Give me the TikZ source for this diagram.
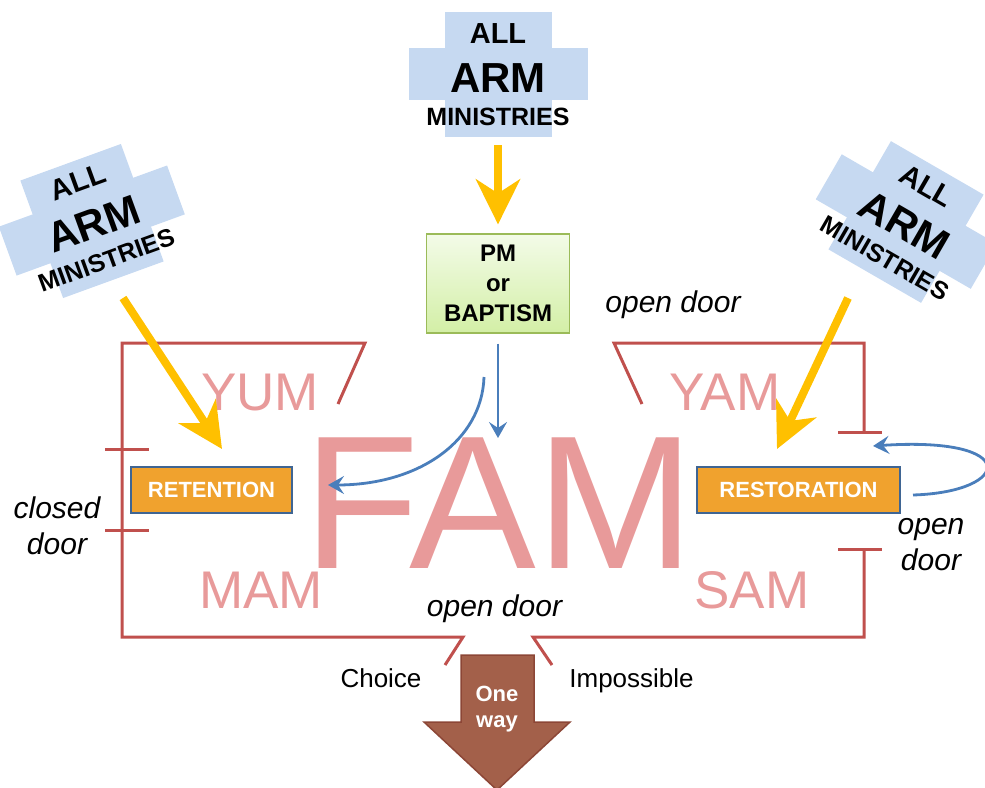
\documentclass[tikz,border=0pt]{standalone}
\usepackage{fontspec}
\setmainfont{Liberation Sans}
\usepackage{tikz}
\usetikzlibrary{arrows.meta}
\usetikzlibrary{positioning}
\usepackage{xcolor}
\definecolor{wallred}{HTML}{C0504D}
\definecolor{armblue}{HTML}{C6D9F1}
\definecolor{roompink}{HTML}{E89A9A}
\definecolor{boxorange}{HTML}{F0A22E}
\definecolor{boxblue}{HTML}{3F6593}
\definecolor{feedyellow}{HTML}{FFC000}
\definecolor{flowblue}{HTML}{4A7EBB}
\definecolor{pmgreen}{HTML}{9BBB59}
\definecolor{pmtop}{HTML}{F3FBE8}
\definecolor{pmbottom}{HTML}{D3EFA6}
\definecolor{wayfill}{HTML}{A3604A}
\definecolor{wayline}{HTML}{8C4636}
\newcommand{\fsz}[2]{\fontsize{#1}{#2}\selectfont}
\tikzset{
wall/.style={draw=wallred,
  line width=3pt},
room/.style={text=roompink,
  font=\fsz{53}{60},
  anchor=base,
  inner sep=0pt},
door/.style={font=\fsz{30}{36}\itshape,
  anchor=base,
  align=center,
  inner sep=0pt},
plain/.style={font=\fsz{26}{30},
  anchor=base,
  inner sep=0pt},
pmbox/.style={draw=pmgreen,
  line width=1.2pt,
  top color=pmtop, bottom color=pmbottom,
  minimum width=143pt, minimum height=99pt,
  inner sep=0pt,
  align=center,
  font=\fsz{24}{30}\bfseries},
task/.style={draw=boxblue,
  fill=boxorange,
  line width=2pt,
  text=white,
  minimum height=46pt,
  inner sep=0pt,
  font=\fsz{22}{26}\bfseries},
armtext/.style={anchor=base,
  inner sep=0pt,
  transform shape},
feed/.style={draw=feedyellow,
  line width=8pt,
  -{Stealth[length=45pt,width=44pt,inset=14pt]}},
flow/.style={draw=flowblue,
  line width=2.8pt,
  -{Stealth[length=16pt,width=18pt,inset=6pt]}},
armcross/.pic={
  \fill [armblue] (-53.5,-62.5) rectangle (53.5,62.5);
  \fill [armblue] (-89.5,-26.5) rectangle (89.5,25.5);
  \node [armtext, font=\fsz{29}{30}\bfseries] (-all) at (0,-31.5) {ALL};
  \node [armtext, font=\fsz{42}{44}\bfseries] (-arm) at (0,17.5) {ARM};
  \node [armtext, font=\fsz{25}{28}\bfseries] (-min) at (0,50.5) {MINISTRIES};
},
}

\begin{document}
\begin{tikzpicture}[x=1pt,y=-1pt]
  \useasboundingbox (0,0) rectangle (985,787);

  % Rooms
  \node [room, font=\fsz{190}{200}] (fam) at (499,568) {FAM};
  \node [room] (yum) at (260,410) {YUM};
  \node [room] (yam) at (725,410) {YAM};
  \node [room] (mam) at (261,608) {MAM};
  \node [room] (sam) at (752,608) {SAM};

  % Walls and doors
  \draw [wall] (338,404) -- (365,343) -- (122,343) -- (122,637) -- (463,637) -- (445,665);
  \draw [wall] (642,404) -- (614,343) -- (864,343) -- (864,432);
  \draw [wall] (864,549) -- (864,637) -- (533,637) -- (552,665);
  \draw [wall] (105,449) -- (149,449);
  \draw [wall] (105,530) -- (149,530);
  \draw [wall] (838,432) -- (882,432);
  \draw [wall] (838,549) -- (882,549);

  % Ministries
  \pic (armtop) at (498,74.5) {armcross};
  \pic [rotate=20] (armleft) at (92,221) {armcross};
  \pic [rotate=-30] (armright) at (906,222) {armcross};

  % Nodes
  \node [pmbox] (pm) at (498,283.5) {PM\\or\\BAPTISM};
  \node [task, minimum width=161pt] (ret) at (211.5,490) {RETENTION};
  \node [task, minimum width=203pt] (rest) at (798.5,490) {RESTORATION};

  % Labels
  \node [door] (odtop) at (673,312) {open door};
  \node [door] (odbottom) at (494.5,616) {open door};
  \node [door] (odright) at (931,570) {open\\door};
  \node [door] (closed) at (57,554) {closed\\door};
  \node [plain] (choice) at (381,687) {Choice};
  \node [plain] (impossible) at (631.5,687) {Impossible};

  % One way arrow
  \filldraw [fill=wayfill, draw=wayline, line width=1.5pt]
    (461,655) -- (534,655) -- (534,722) -- (570,722) -- (497,790) -- (424,722) -- (461,722) -- cycle;
  \node [font=\fsz{22}{26}\bfseries, text=white, align=center, anchor=base, inner sep=0pt] (oneway) at (497,727) {One\\way};

  % Arrows
  \coordinate (topfeed) at (498,145);
  \coordinate (leftfeed) at (123,298);
  \coordinate (rightfeed) at (848,298);
  \coordinate (retdrop) at (222,449);
  \coordinate (restdrop) at (777,449);
  \coordinate (famin) at (498,438);
  \coordinate (pmbend) at (484,377);
  \coordinate (famback) at (328,485);
  \coordinate (restout) at (913,495);
  \coordinate (restin) at (873,446);

  \draw [feed, shorten >=9pt] (topfeed) -- (pm.north);
  \draw [feed] (leftfeed) -- (retdrop);
  \draw [feed] (rightfeed) -- (restdrop);

  \draw [flow, shorten <=10pt] (pm.south) -- (famin);
  \draw [flow] (pmbend) .. controls (482,440) and (420,485) .. (famback);
  \draw [flow] (restout) .. controls (1012,492) and (1022,436) .. (restin);
\end{tikzpicture}
\end{document}
